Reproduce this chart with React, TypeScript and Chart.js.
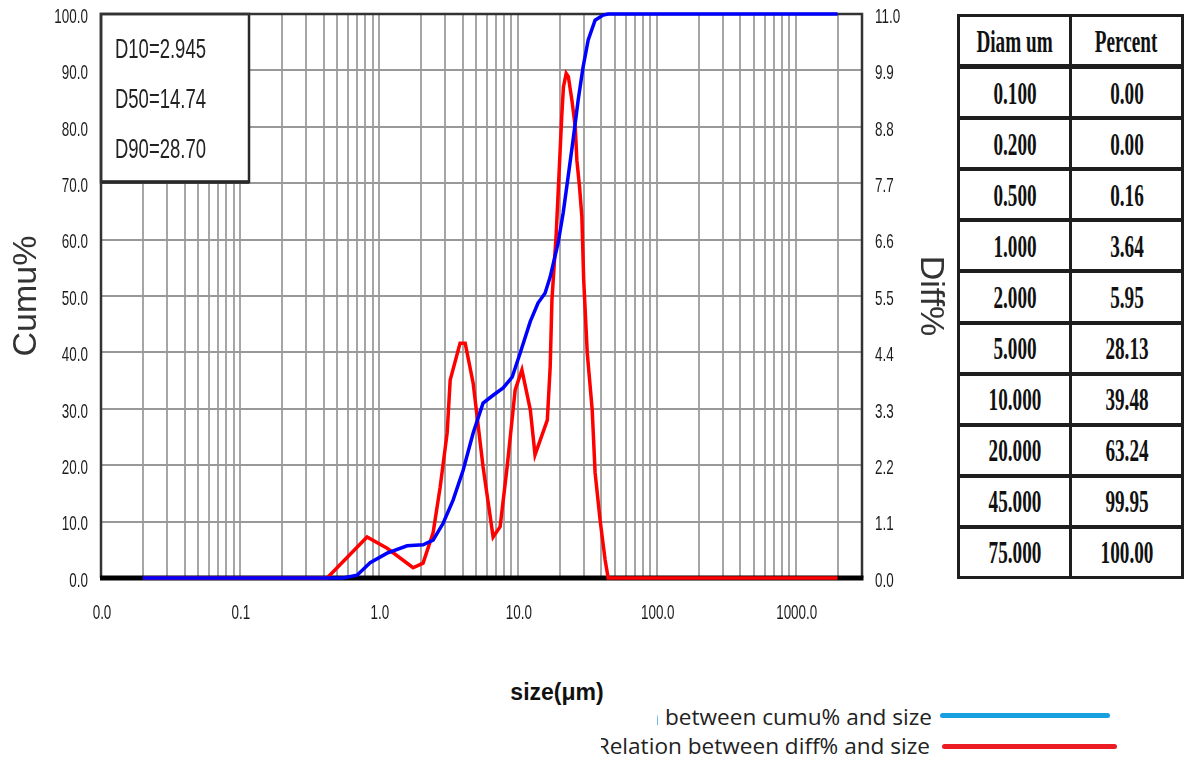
import React, { useEffect, useRef } from 'react';
import { Chart, registerables } from 'chart.js';

Chart.register(...registerables);

// ---------- data ----------
const cumuSizes = [0.02, 0.552, 0.697, 0.865, 1.146, 1.596, 2.08, 2.456, 2.9, 3.42, 4.04, 4.77, 5.62, 6.64, 7.84, 9.1, 10.4, 12.3, 14.0, 15.7, 17.1, 19.5, 21.2, 23.0, 25.0, 27.2, 29.5, 32.1, 36.0, 41.1, 44.7, 2000];
const cumuValues = [0, 0, 0.5, 2.7, 4.4, 5.7, 5.9, 6.7, 9.7, 13.8, 19.1, 25.7, 31.0, 32.4, 33.7, 35.6, 39.9, 45.5, 48.8, 50.5, 53.4, 59.4, 64.7, 71.1, 77.7, 84.8, 90.6, 95.4, 98.9, 99.8, 100, 100];

const diffSizes = [0.02, 0.424, 0.822, 1.146, 1.763, 2.08, 2.456, 2.76, 3.1, 3.26, 3.84, 4.18, 4.77, 5.62, 6.64, 7.46, 8.38, 9.57, 10.7, 12.3, 13.3, 16.3, 17.1, 17.6, 18.9, 19.6, 20.7, 21.3, 22.3, 23.1, 24.5, 25.9, 26.6, 27.8, 28.9, 29.8, 31.6, 34.3, 36.0, 39.1, 42.5, 44.7, 2000];
const diffValues = [0, 0, 0.8, 0.58, 0.2, 0.29, 0.88, 1.77, 2.83, 3.86, 4.58, 4.58, 3.8, 2.17, 0.8, 1.0, 2.17, 3.67, 4.06, 3.28, 2.4, 3.08, 4.12, 5.42, 6.72, 7.63, 9.0, 9.58, 9.84, 9.78, 9.32, 8.8, 8.15, 7.63, 7.05, 5.81, 4.39, 3.28, 2.05, 1.13, 0.35, 0, 0];

const cumuTickValues = [0, 10, 20, 30, 40, 50, 60, 70, 80, 90, 100];
const diffTickValues = [0, 1.1, 2.2, 3.3, 4.4, 5.5, 6.6, 7.7, 8.8, 9.9, 11.0];
const xLabelValues = [0.01, 0.1, 1, 10, 100, 1000];
const gridDecades = [0.01, 0.1, 1, 10, 100];
const gridMantissas = [1, 2, 3, 4, 5, 6, 7, 8, 9];
const xExtraGrid = [1000, 2000, 3000];
const xAxisMin = 0.01;
const xAxisMax = 3000;

const statLabels = ['D10=2.945', 'D50=14.74', 'D90=28.70'];
const tableHeader = ['Diam um', 'Percent'];
const tableDiam = ['0.100', '0.200', '0.500', '1.000', '2.000', '5.000', '10.000', '20.000', '45.000', '75.000'];
const tablePercent = ['0.00', '0.00', '0.16', '3.64', '5.95', '28.13', '39.48', '63.24', '99.95', '100.00'];
const legendLabels = ['Relation between cumu% and size', 'Relation between diff% and size'];
const xTitle = 'size(μm)';
const yLeftTitle = 'Cumu%';
const yRightTitle = 'Diff%';

const xGridValues = gridDecades
  .flatMap((d) => gridMantissas.map((m) => parseFloat((m * d).toPrecision(3))))
  .concat(xExtraGrid);

// ---------- drawing helpers ----------
const TICK_FONT = '21px "Liberation Sans", Arial, sans-serif';
const TICK_SCALE = 0.64;

function condensedText(ctx: CanvasRenderingContext2D, text: string, x: number, y: number, align: CanvasTextAlign, sx: number) {
  ctx.save();
  ctx.translate(x, y);
  ctx.scale(sx, 1);
  ctx.textAlign = align;
  ctx.textBaseline = 'middle';
  ctx.fillText(text, 0, 0);
  ctx.restore();
}

const overlayPlugin = {
  id: 'overlay',
  beforeDatasetsDraw(chart: any) {
    const { ctx, chartArea: ca } = chart;
    ctx.save();
    // statistics box
    const bw = 148;
    const bh = 168;
    ctx.fillStyle = '#ffffff';
    ctx.fillRect(ca.left, ca.top, bw, bh);
    ctx.strokeStyle = '#2a2a2a';
    ctx.lineWidth = 2.5;
    ctx.strokeRect(ca.left, ca.top, bw, bh);
    ctx.lineWidth = 3.5;
    ctx.beginPath();
    ctx.moveTo(ca.left, ca.top + bh);
    ctx.lineTo(ca.left + bw, ca.top + bh);
    ctx.stroke();
    ctx.fillStyle = '#222';
    ctx.font = '28px "Liberation Sans", Arial, sans-serif';
    statLabels.forEach((t, i) => condensedText(ctx, t, ca.left + 14, ca.top + 36 + i * 50, 'left', 0.66));
    // frame
    ctx.strokeStyle = '#333';
    ctx.lineWidth = 2.5;
    ctx.beginPath();
    ctx.moveTo(ca.left, ca.bottom);
    ctx.lineTo(ca.left, ca.top);
    ctx.lineTo(ca.right, ca.top);
    ctx.lineTo(ca.right, ca.bottom);
    ctx.stroke();
    ctx.strokeStyle = '#000';
    ctx.lineWidth = 5;
    ctx.beginPath();
    ctx.moveTo(ca.left - 1, ca.bottom);
    ctx.lineTo(ca.right + 1.5, ca.bottom);
    ctx.stroke();
    ctx.restore();
  },
  afterDraw(chart: any) {
    const { ctx, chartArea: ca, scales } = chart;
    ctx.save();
    ctx.fillStyle = '#1c1c1c';
    ctx.font = TICK_FONT;
    cumuTickValues.forEach((v) => {
      condensedText(ctx, v.toFixed(1), ca.left - 13, scales.yCumu.getPixelForValue(v) + 3, 'right', TICK_SCALE);
    });
    diffTickValues.forEach((v) => {
      condensedText(ctx, v.toFixed(1), ca.right + 13, scales.yDiff.getPixelForValue(v) + 3, 'left', TICK_SCALE);
    });
    xLabelValues.forEach((v) => {
      condensedText(ctx, v.toFixed(1), scales.x.getPixelForValue(v) + 1, ca.bottom + 35, 'center', TICK_SCALE);
    });
    ctx.restore();
  },
};

export default function App() {
  const canvasRef = useRef<HTMLCanvasElement | null>(null);

  useEffect(() => {
    const canvas = canvasRef.current;
    if (!canvas) return;
    const cumuPoints = cumuSizes.map((s, i) => ({ x: s, y: cumuValues[i] }));
    const diffPoints = diffSizes.map((s, i) => ({ x: s, y: diffValues[i] }));
    const chart = new Chart(canvas, {
      type: 'line',
      data: {
        datasets: [
          {
            label: legendLabels[0],
            data: cumuPoints,
            yAxisID: 'yCumu',
            borderColor: '#0000ff',
            borderWidth: 3.5,
            pointRadius: 0,
            tension: 0,
            clip: false,
            fill: false,
          },
          {
            label: legendLabels[1],
            data: diffPoints,
            yAxisID: 'yDiff',
            borderColor: '#ff0000',
            borderWidth: 3.5,
            pointRadius: 0,
            tension: 0,
            clip: false,
            fill: false,
          },
        ],
      },
      options: {
        responsive: false,
        animation: false,
        events: [],
        layout: { padding: { top: 14, left: 0, right: 0, bottom: 0 } },
        plugins: { legend: { display: false }, tooltip: { enabled: false } },
        scales: {
          x: {
            type: 'logarithmic',
            position: 'bottom',
            min: xAxisMin,
            max: xAxisMax,
            afterBuildTicks: (s: any) => {
              s.ticks = xGridValues.map((v) => ({ value: v }));
            },
            afterFit: (s: any) => {
              s.height = 62;
            },
            ticks: { display: false, autoSkip: false },
            grid: { color: '#a6a6a6', lineWidth: 2, drawTicks: false },
            border: { display: false },
          },
          yCumu: {
            type: 'linear',
            position: 'left',
            min: 0,
            max: 100,
            afterBuildTicks: (s: any) => {
              s.ticks = cumuTickValues.map((v) => ({ value: v }));
            },
            afterFit: (s: any) => {
              s.width = 101;
            },
            ticks: { display: false },
            grid: { color: '#999999', lineWidth: 2, drawTicks: false },
            border: { display: false },
            title: {
              display: true,
              text: yLeftTitle,
              color: '#333',
              font: { family: '"Liberation Sans", Arial, sans-serif', size: 34 },
              padding: { top: 6, bottom: 0 },
            },
          },
          yDiff: {
            type: 'linear',
            position: 'right',
            min: 0,
            max: 11,
            afterBuildTicks: (s: any) => {
              s.ticks = diffTickValues.map((v) => ({ value: v }));
            },
            afterFit: (s: any) => {
              s.width = 98;
            },
            ticks: { display: false },
            grid: { display: false, drawTicks: false },
            border: { display: false },
            title: {
              display: true,
              text: yRightTitle,
              color: '#333',
              font: { family: '"Liberation Sans", Arial, sans-serif', size: 34 },
              padding: { top: 9, bottom: 0 },
            },
          },
        },
      } as any,
      plugins: [overlayPlugin],
    });
    return () => chart.destroy();
  }, []);

  const rows = [tableHeader].concat(tableDiam.map((d, i) => [d, tablePercent[i]]));
  const cellText: React.CSSProperties = {
    display: 'inline-block',
    transform: 'scaleX(0.6)',
    font: 'bold 32px "Liberation Serif", "Times New Roman", serif',
    lineHeight: '1',
    color: '#111',
    whiteSpace: 'nowrap',
  };
  const cellBox: React.CSSProperties = {
    flex: '1 1 0',
    minWidth: 0,
    display: 'flex',
    alignItems: 'center',
    justifyContent: 'center',
    boxSizing: 'border-box',
  };
  const lineColor = '#1e1e1e';

  return (
    <div style={{ position: 'absolute', left: 0, top: 0, width: 1187, height: 765, background: '#fff', overflow: 'hidden' }}>
      <canvas ref={canvasRef} width={960} height={640} style={{ position: 'absolute', left: 0, top: 0, width: 960, height: 640 }} />

      <div
        style={{
          position: 'absolute',
          left: 957,
          top: 14,
          width: 227,
          height: 565,
          border: `3px solid ${lineColor}`,
          boxSizing: 'border-box',
          display: 'flex',
          flexDirection: 'column',
          background: '#fff',
        }}
      >
        {rows.map((r, i) => (
          <div
            key={i}
            style={{
              flex: '1 1 0',
              minHeight: 0,
              display: 'flex',
              boxSizing: 'border-box',
              borderTop: i === 0 ? 'none' : i === 1 ? `5px solid ${lineColor}` : `4px solid ${lineColor}`,
            }}
          >
            <div style={cellBox}>
              <span style={cellText}>{r[0]}</span>
            </div>
            <div style={{ ...cellBox, borderLeft: `3px solid ${lineColor}` }}>
              <span style={cellText}>{r[1]}</span>
            </div>
          </div>
        ))}
      </div>

      <div
        style={{
          position: 'absolute',
          left: 557,
          top: 678,
          transform: 'translateX(-50%)',
          font: 'bold 23px "Liberation Sans", Arial, sans-serif',
          lineHeight: '28px',
          color: '#111',
          whiteSpace: 'nowrap',
        }}
      >
        {xTitle}
      </div>

      <div style={{ position: 'absolute', left: 657, top: 704, width: 275, height: 26, overflow: 'hidden' }}>
        <div style={{ position: 'absolute', right: 0, top: 0, whiteSpace: 'nowrap', font: '22.6px "Open Sans", sans-serif', lineHeight: '26px', color: '#222' }}>
          {legendLabels[0]}
        </div>
      </div>
      <div style={{ position: 'absolute', left: 940, top: 713, width: 170, height: 5, borderRadius: 3, background: '#189fe0' }} />

      <div style={{ position: 'absolute', left: 601, top: 733, width: 329, height: 26, overflow: 'hidden' }}>
        <div style={{ position: 'absolute', right: 0, top: 0, whiteSpace: 'nowrap', font: '22.6px "Open Sans", sans-serif', lineHeight: '26px', color: '#222' }}>
          {legendLabels[1]}
        </div>
      </div>
      <div style={{ position: 'absolute', left: 942, top: 744, width: 175, height: 5, borderRadius: 3, background: '#ec1c24' }} />
    </div>
  );
}
